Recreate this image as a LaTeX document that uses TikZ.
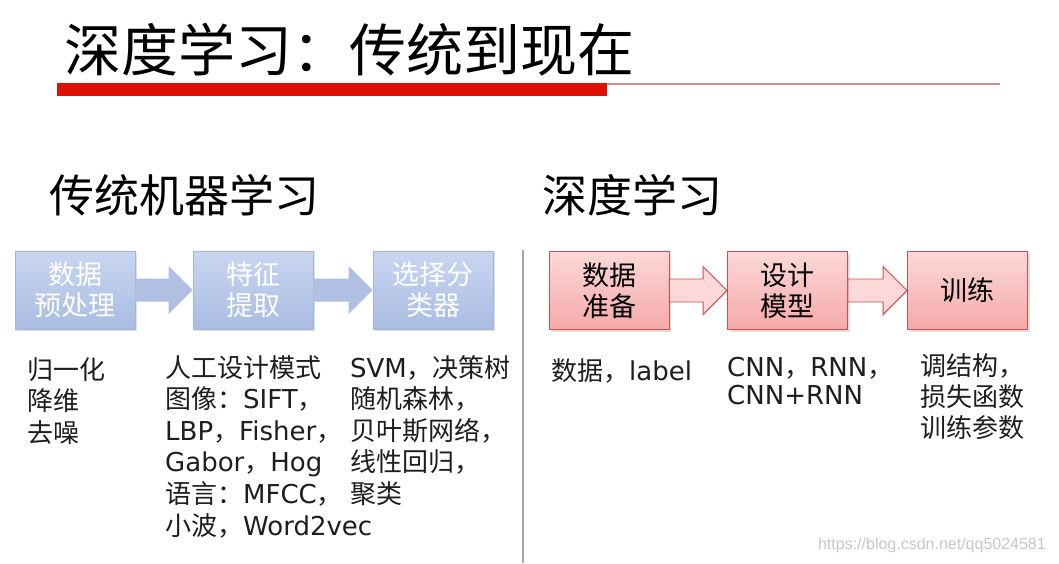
\documentclass[tikz,border=0pt]{standalone}
\usepackage{fontspec}
\setmainfont{Noto Sans CJK SC}
\newfontfamily\lat{DejaVu Sans}
\newfontfamily\wmfont{Liberation Sans}
\usetikzlibrary{calc,shadows}
\definecolor{bluefillA}{HTML}{C9D6F0}
\definecolor{bluefillB}{HTML}{A9BCE2}
\definecolor{blueline}{HTML}{A3B4DA}
\definecolor{bluearrow}{HTML}{AFC0E3}
\definecolor{redfillA}{HTML}{FCD8D8}
\definecolor{redfillB}{HTML}{F5A9A9}
\definecolor{redline}{HTML}{C8504E}
\definecolor{barred}{HTML}{DD1100}
\definecolor{thinred}{HTML}{D48A8A}
\definecolor{txt}{HTML}{1E1E1E}
\tikzset{
  bluebox/.style={rectangle, draw=blueline, line width=0.8pt, top color=bluefillA, bottom color=bluefillB,
    minimum width=120pt, minimum height=78pt, inner sep=0pt, align=center, text=white,
    font=\fontsize{27}{31}\selectfont, drop shadow={opacity=0.25, shadow xshift=2pt, shadow yshift=-2pt}},
  redbox/.style={rectangle, draw=redline, line width=0.8pt, top color=redfillA, bottom color=redfillB,
    minimum width=120pt, minimum height=78pt, inner sep=0pt, align=center, text=black,
    font=\fontsize{27}{31}\selectfont, drop shadow={opacity=0.25, shadow xshift=2pt, shadow yshift=-2pt}},
  bluearr/.style={fill=bluearrow, draw=none},
  redarr/.style={fill=redfillA, draw=redline, line width=0.9pt},
  listtext/.style={anchor=north west, inner sep=0pt, align=left, text=txt, font=\fontsize{26}{31.6}\selectfont},
  heading/.style={anchor=west, inner sep=0pt, text=black, font=\fontsize{45}{50}\selectfont},
}
\newcommand\blockarr[3]{%
  \path[#3] ($(#1.east)+(0,-11.5)$) -- ($(#2.west)+(-24,-11.5)$) -- ($(#2.west)+(-24,-24)$) -- (#2.west)
    -- ($(#2.west)+(-24,24)$) -- ($(#2.west)+(-24,11.5)$) -- ($(#1.east)+(0,11.5)$) -- cycle;}
\begin{document}
\begin{tikzpicture}[x=1pt,y=-1pt]
\useasboundingbox[fill=white] (0,0) rectangle (1059,563);
% title
\node[anchor=west, inner sep=0pt, font=\fontsize{57}{60}\selectfont] (title) at (64,50) {深度学习：传统到现在};
\fill[barred] (57,83) rectangle (607,96);
\coordinate (tl0) at (607,84);
\coordinate (tl1) at (1000,84);
\draw[thinred, line width=1.5pt] (tl0) -- (tl1);
% headings
\node[heading] (h1) at (49,195) {传统机器学习};
\node[heading] (h2) at (542,195) {深度学习};
% divider
\coordinate (d0) at (523,250);
\coordinate (d1) at (523,563);
\draw[gray!70, line width=2pt] (d0) -- (d1);
% blue boxes
\node[bluebox] (b1) at (75,290) {数据\\预处理};
\node[bluebox] (b2) at (253,290) {特征\\提取};
\node[bluebox] (b3) at (433,290) {选择分\\类器};
\blockarr{b1}{b2}{bluearr}
\blockarr{b2}{b3}{bluearr}
% red boxes
\node[redbox] (r1) at (609,290.5) {数据\\准备};
\node[redbox] (r2) at (787.5,290.5) {设计\\模型};
\node[redbox] (r3) at (967.5,290.5) {训练};
\blockarr{r1}{r2}{redarr}
\blockarr{r2}{r3}{redarr}
% lists
\node[listtext] (l1) at (27,357) {归一化\\降维\\去噪};
\node[listtext] (l2) at (165,355) {人工设计模式\\图像：{\lat SIFT}，\\{\lat LBP}，{\lat Fisher}，\\{\lat Gabor}，{\lat Hog}\\语言：{\lat MFCC}，\\小波，{\lat Word2vec}};
\node[listtext] (l3) at (350,355) {{\lat SVM}，决策树\\随机森林，\\贝叶斯网络，\\线性回归，\\聚类};
\node[listtext] (l4) at (551,358) {数据，{\lat label}};
\node[listtext, font=\fontsize{26}{28}\selectfont] (l5) at (727,357) {{\lat CNN}，{\lat RNN}，\\{\lat CNN+RNN}};
\node[listtext, font=\fontsize{26}{31}\selectfont] (l6) at (920,353) {调结构，\\损失函数\\训练参数};
% watermark
\node[anchor=east, inner sep=0pt, text=black!22, font=\wmfont\fontsize{16}{18}\selectfont] (wm) at (1046,545) {https://blog.csdn.net/qq5024581};
\end{tikzpicture}
\end{document}
